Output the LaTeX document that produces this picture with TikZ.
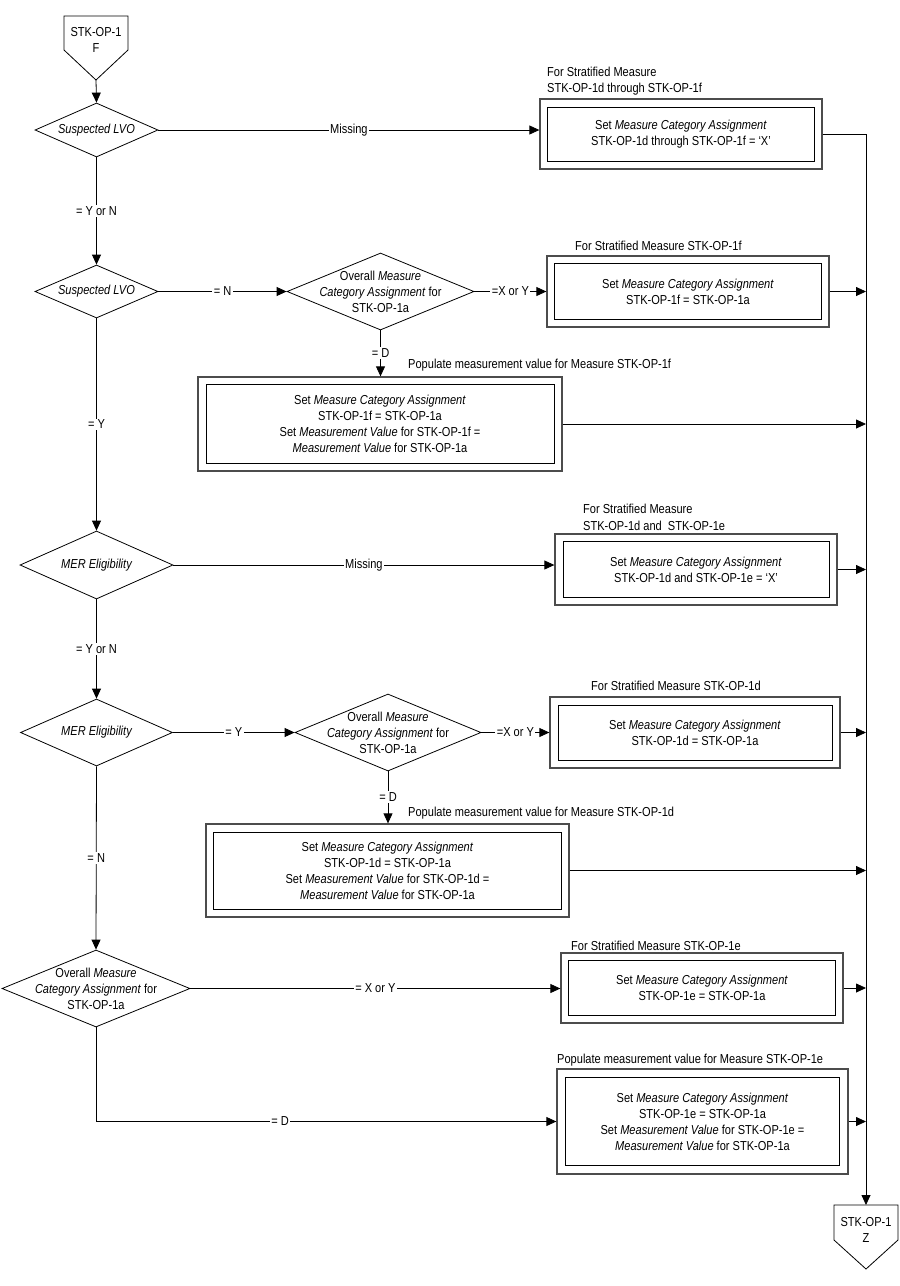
\documentclass[tikz,border=0pt]{standalone}
\usepackage{fontspec}
\setmainfont{Liberation Sans}[FakeStretch=0.85]
\usetikzlibrary{shapes.geometric,arrows.meta}
\tikzset{
 ln/.style={draw=black, line width=0.8pt},
 arr/.style={ln, -{Triangle[length=10pt,width=9pt]}},
 dia/.style={diamond, draw=black, line width=0.8pt, inner sep=0pt},
 outerbox/.style={rectangle, draw=black!70, line width=1.3pt, inner sep=0pt},
 innerbox/.style={rectangle, draw=black, line width=0.9pt, inner sep=0pt, align=center},
 lbl/.style={fill=white, inner sep=1.5pt},
 captxt/.style={anchor=base west, inner sep=0pt},
 txt/.style={align=center, inner sep=0pt},
}
\begin{document}
\begin{tikzpicture}[x=1pt,y=-1pt,font=\fontsize{13}{16}\selectfont]
\useasboundingbox (0,0) rectangle (900,1286);

% off-page connectors
\coordinate (Ftip) at (96,80);
\draw[ln] (64,16) -- (128,16) -- (128,50) -- (Ftip) -- (64,50) -- cycle;
\node[txt] (Ft) at (96,40) {STK-OP-1\\F};
\coordinate (Ztop) at (866,1205);
\draw[ln] (Ztop) -- (898,1205) -- (898,1240) -- (866,1269) -- (834,1240) -- (834,1205) -- cycle;
\node[txt] (Zt) at (866,1230) {STK-OP-1\\Z};

% decisions
\node[dia, minimum width=123pt, minimum height=54pt] (d1) at (96.5,130) {};
\node[txt] (d1t) at (d1) {\itshape Suspected LVO};
\node[dia, minimum width=123pt, minimum height=53pt] (d2) at (96.5,291.5) {};
\node[txt] (d2t) at (d2) {\itshape Suspected LVO};
\node[dia, minimum width=187pt, minimum height=77pt] (d3) at (380.5,291.5) {};
\node[txt] (d3t) at (d3) {Overall \textit{Measure}\\\textit{Category Assignment} for\\STK-OP-1a};
\node[dia, minimum width=153pt, minimum height=68pt] (d4) at (96.5,565) {};
\node[txt] (d4t) at (d4) {\itshape MER Eligibility};
\node[dia, minimum width=152pt, minimum height=67pt] (d5) at (96.5,732.5) {};
\node[txt] (d5t) at (d5) {\itshape MER Eligibility};
\node[dia, minimum width=186pt, minimum height=77pt] (d6) at (388,732.5) {};
\node[txt] (d6t) at (d6) {Overall \textit{Measure}\\\textit{Category Assignment} for\\STK-OP-1a};
\node[dia, minimum width=188pt, minimum height=77pt] (d7) at (96,988.5) {};
\node[txt] (d7t) at (d7) {Overall \textit{Measure}\\\textit{Category Assignment} for\\STK-OP-1a};

% boxes
\node[outerbox, minimum width=282pt, minimum height=70pt] (b1) at (681,134) {};
\node[innerbox, minimum width=267pt, minimum height=54pt] (b1i) at (b1) {Set \textit{Measure Category Assignment}\\STK-OP-1d through STK-OP-1f = `X'};
\node[captxt] (c1a) at (547,76) {For Stratified Measure};
\node[captxt] (c1b) at (547,92) {STK-OP-1d through STK-OP-1f};

\node[outerbox, minimum width=282pt, minimum height=71pt] (b2) at (688,291.5) {};
\node[innerbox, minimum width=267pt, minimum height=56pt] (b2i) at (b2) {Set \textit{Measure Category Assignment}\\STK-OP-1f = STK-OP-1a};
\node[captxt] (c2) at (575,250) {For Stratified Measure STK-OP-1f};

\node[outerbox, minimum width=364pt, minimum height=94pt] (b3) at (380,424) {};
\node[innerbox, minimum width=348pt, minimum height=79pt] (b3i) at (b3) {Set \textit{Measure Category Assignment}\\STK-OP-1f = STK-OP-1a\\Set \textit{Measurement Value} for STK-OP-1f =\\\textit{Measurement Value} for STK-OP-1a};
\node[captxt] (c3) at (408,368) {Populate measurement value for Measure STK-OP-1f};

\node[outerbox, minimum width=282pt, minimum height=71pt] (b4) at (696,569.5) {};
\node[innerbox, minimum width=266pt, minimum height=56pt] (b4i) at (b4) {Set \textit{Measure Category Assignment}\\STK-OP-1d and STK-OP-1e = `X'};
\node[captxt] (c4a) at (583,513) {For Stratified Measure};
\node[captxt] (c4b) at (583,530) {STK-OP-1d and\ \ STK-OP-1e};

\node[outerbox, minimum width=290pt, minimum height=71pt] (b5) at (695,732.5) {};
\node[innerbox, minimum width=274pt, minimum height=55pt] (b5i) at (b5) {Set \textit{Measure Category Assignment}\\STK-OP-1d = STK-OP-1a};
\node[captxt] (c5) at (591,690) {For Stratified Measure STK-OP-1d};

\node[outerbox, minimum width=363pt, minimum height=93pt] (b6) at (387.5,870.5) {};
\node[innerbox, minimum width=348pt, minimum height=77pt] (b6i) at (b6) {Set \textit{Measure Category Assignment}\\STK-OP-1d = STK-OP-1a\\Set \textit{Measurement Value} for STK-OP-1d =\\\textit{Measurement Value} for STK-OP-1a};
\node[captxt] (c6) at (408,816) {Populate measurement value for Measure STK-OP-1d};

\node[outerbox, minimum width=282pt, minimum height=70pt] (b7) at (702,988) {};
\node[innerbox, minimum width=267pt, minimum height=55pt] (b7i) at (b7) {Set \textit{Measure Category Assignment}\\STK-OP-1e = STK-OP-1a};
\node[captxt] (c7) at (571,950) {For Stratified Measure STK-OP-1e};

\node[outerbox, minimum width=291pt, minimum height=105pt] (b8) at (702.5,1121.5) {};
\node[innerbox, minimum width=274pt, minimum height=88pt] (b8i) at (b8) {Set \textit{Measure Category Assignment}\\STK-OP-1e = STK-OP-1a\\Set \textit{Measurement Value} for STK-OP-1e =\\\textit{Measurement Value} for STK-OP-1a};
\node[captxt] (c8) at (557,1063) {Populate measurement value for Measure STK-OP-1e};

% connectors
\draw[arr] (Ftip) -- (d1.north);
\draw[arr] (d1.east) -- node[lbl] {Missing} (d1.east -| b1.west);
\draw[arr] (d1.south) -- node[lbl] {= Y or N} (d2.north);
\draw[arr] (d2.east) -- node[lbl] {= N} (d3.west);
\draw[arr] (d3.east) -- node[lbl] {=X or Y} (d3.east -| b2.west);
\draw[arr] (d3.south) -- node[lbl] {= D} (d3.south |- b3.north);
\draw[arr] (d2.south) -- node[lbl] {= Y} (d4.north);
\draw[arr] (d4.east) -- node[lbl] {Missing} (d4.east -| b4.west);
\draw[arr] (d4.south) -- node[lbl] {= Y or N} (d5.north);
\draw[arr] (d5.east) -- node[lbl] {= Y} (d6.west);
\draw[arr] (d6.east) -- node[lbl] {=X or Y} (d6.east -| b5.west);
\draw[arr] (d6.south) -- node[lbl] {= D} (d6.south |- b6.north);
\draw[arr] (d5.south) -- node[lbl] {= N} (d7.north);
\draw[arr] (d7.east) -- node[lbl] {= X or Y} (d7.east -| b7.west);
\draw[arr] (d7.south) |- node[lbl, pos=0.70] {= D} (b8.west);

% outputs to the bus
\draw[arr] (b1.east) -- (b1.east -| Ztop) -- (Ztop);
\draw[arr] (b2.east) -- (b2.east -| Ztop);
\draw[arr] (b3.east) -- (b3.east -| Ztop);
\draw[arr] (b4.east) -- (b4.east -| Ztop);
\draw[arr] (b5.east) -- (b5.east -| Ztop);
\draw[arr] (b6.east) -- (b6.east -| Ztop);
\draw[arr] (b7.east) -- (b7.east -| Ztop);
\draw[arr] (b8.east) -- (b8.east -| Ztop);
\end{tikzpicture}
\end{document}
